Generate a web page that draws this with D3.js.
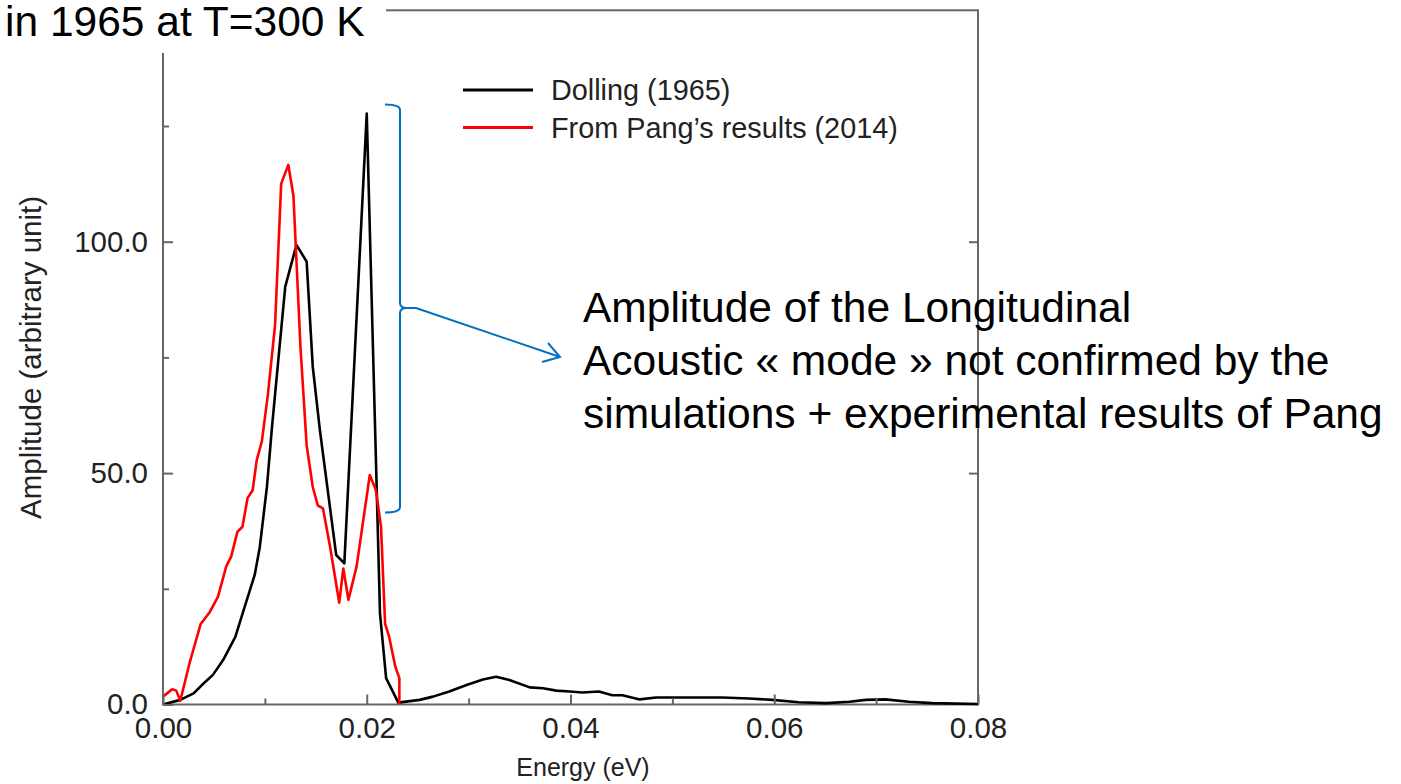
<!DOCTYPE html>
<html>
<head>
<meta charset="utf-8">
<script src="https://cdn.jsdelivr.net/npm/d3@7"></script>
<style>
  body { margin: 0; background: #fff; }
  text { font-family: "Liberation Sans", Arial, sans-serif; }
</style>
</head>
<body>
<div class="chart"></div>
<script>
// Dolling (1965) spectrum
var energyDolling = [0.0000, 0.0017, 0.0030, 0.0040, 0.0049, 0.0059, 0.0071, 0.0080, 0.0090, 0.0095,
  0.0102, 0.0107, 0.0120, 0.0131, 0.0141, 0.0147, 0.0154, 0.0170, 0.0178, 0.0200, 0.0213, 0.0219,
  0.0231, 0.0252, 0.0265, 0.0281, 0.0298, 0.0314, 0.0327, 0.0340, 0.0360, 0.0373, 0.0386, 0.0399,
  0.0412, 0.0428, 0.0441, 0.0451, 0.0468, 0.0484, 0.0510, 0.0549, 0.0575, 0.0598, 0.0624, 0.0651,
  0.0674, 0.0690, 0.0709, 0.0732, 0.0755, 0.0800];
var ampDolling = [0.0, 1.0, 2.4, 4.6, 6.4, 9.6, 14.6, 21.0, 28.0, 34.0,
  47.0, 60.0, 90.3, 99.3, 95.7, 73.0, 59.3, 32.3, 30.5, 127.7, 19.7, 5.7,
  0.4, 1.0, 1.7, 2.8, 4.2, 5.4, 6.0, 5.3, 3.7, 3.5, 3.0, 2.8,
  2.6, 2.8, 2.0, 2.0, 1.1, 1.5, 1.5, 1.5, 1.3, 1.0, 0.5, 0.3,
  0.6, 1.0, 1.1, 0.6, 0.3, 0.1];

// From Pang's results (2014)
var energyPang = [0.0000, 0.0009, 0.0013, 0.0017, 0.0026, 0.0037, 0.0046, 0.0054, 0.0062, 0.0067,
  0.0073, 0.0078, 0.0083, 0.0088, 0.0092, 0.0097, 0.0103, 0.0110, 0.0116, 0.0123, 0.0128, 0.0135,
  0.0141, 0.0147, 0.0152, 0.0157, 0.0164, 0.0173, 0.0177, 0.0182, 0.0190, 0.0203, 0.0209, 0.0214,
  0.0218, 0.0222, 0.0228, 0.0232, 0.0232];
var ampPang = [1.7, 3.3, 3.0, 0.8, 8.9, 17.4, 20.0, 23.3, 29.8, 32.0,
  37.3, 38.4, 44.6, 46.3, 52.8, 56.8, 67.0, 82.0, 112.5, 116.6, 110.0, 77.0,
  56.0, 47.0, 43.0, 42.4, 34.1, 22.0, 29.4, 22.6, 29.8, 49.6, 46.3, 38.4,
  17.5, 14.6, 8.2, 5.7, 0.0];

var seriesNames = ["Dolling (1965)", "From Pang\u2019s results (2014)"];
var seriesColors = ["#000000", "#ff0000"];

var xMajorTicks = [0, 0.02, 0.04, 0.06, 0.08];
var xMinorTicks = [0.01, 0.03, 0.05, 0.07];
var yMajorTicks = [0, 50, 100];
var yMinorTicks = [25, 75, 125];

var titleText = "in 1965 at T=300 K";
var noteLines = [
  "Amplitude of the Longitudinal",
  "Acoustic \u00ab mode \u00bb not confirmed by the",
  "simulations + experimental results of Pang"
];

var svgWidth = 1401;
var svgHeight = 784;
var margin = { top: 10.3, left: 163, right: 423, bottom: 79.5 };
var width = svgWidth - margin.left - margin.right;
var height = svgHeight - margin.top - margin.bottom;

var svg = d3.select(".chart")
  .append("svg")
  .attr("width", svgWidth)
  .attr("height", svgHeight);

var chartGroup = svg.append("g")
  .attr("transform", `translate(${margin.left}, ${margin.top})`);

var x = d3.scaleLinear().domain([0, 0.08]).range([0, width]);
var y = d3.scaleLinear().domain([0, 150]).range([height, 0]);

var axisColor = "#666";
var labelColor = "#222";

// frame
chartGroup.append("rect")
  .attr("width", width)
  .attr("height", height)
  .attr("fill", "none")
  .attr("stroke", axisColor)
  .attr("stroke-width", 2);

// curves
var line = d3.line()
  .x(d => x(d[0]))
  .y(d => y(d[1]));

var dollingData = d3.zip(energyDolling, ampDolling);
var pangData = d3.zip(energyPang, ampPang);

chartGroup.append("path")
  .datum(dollingData)
  .attr("d", line)
  .attr("fill", "none")
  .attr("stroke", seriesColors[0])
  .attr("stroke-width", 2.6)
  .attr("stroke-linejoin", "round");

chartGroup.append("path")
  .datum(pangData)
  .attr("d", line)
  .attr("fill", "none")
  .attr("stroke", seriesColors[1])
  .attr("stroke-width", 2.6)
  .attr("stroke-linejoin", "round");

// axes, ticks pointing inward
function styleAxis(g) {
  g.select(".domain").remove();
  g.selectAll(".tick line").attr("stroke", axisColor).attr("stroke-width", 2);
  g.selectAll(".tick text")
    .attr("fill", labelColor)
    .style("font-size", "29.5px")
    .style("font-family", "'Liberation Sans', Arial, sans-serif");
}

chartGroup.append("g")
  .attr("transform", `translate(0, ${height})`)
  .call(d3.axisBottom(x).tickValues(xMajorTicks).tickSize(-10).tickPadding(13)
    .tickFormat(d3.format(".2f")))
  .call(styleAxis);

chartGroup.append("g")
  .attr("transform", `translate(0, ${height})`)
  .call(d3.axisBottom(x).tickValues(xMinorTicks).tickSize(-6).tickFormat(""))
  .call(styleAxis);

chartGroup.append("g")
  .call(d3.axisLeft(y).tickValues(yMajorTicks).tickSize(-10).tickPadding(15)
    .tickFormat(d3.format(".1f")))
  .call(styleAxis);

chartGroup.append("g")
  .call(d3.axisLeft(y).tickValues(yMinorTicks).tickSize(-6).tickFormat(""))
  .call(styleAxis);

chartGroup.append("g")
  .attr("transform", `translate(${width}, 0)`)
  .call(d3.axisRight(y).tickValues(yMajorTicks.slice(1)).tickSize(-9).tickFormat(""))
  .call(styleAxis);

// axis titles
chartGroup.append("text")
  .attr("x", 583 - margin.left)
  .attr("y", height + 72)
  .attr("text-anchor", "middle")
  .attr("fill", labelColor)
  .style("font-size", "25px")
  .text("Energy (eV)");

chartGroup.append("text")
  .attr("transform", `translate(${41 - margin.left}, ${height / 2}) rotate(-90)`)
  .attr("text-anchor", "middle")
  .attr("fill", labelColor)
  .style("font-size", "29.5px")
  .text("Amplitude (arbitrary unit)");

// legend
var legend = svg.append("g").attr("class", "legend");
seriesNames.forEach(function (name, i) {
  var ly = 90 + i * 37.5;
  legend.append("line")
    .attr("x1", 463).attr("x2", 533)
    .attr("y1", ly).attr("y2", ly)
    .attr("stroke", seriesColors[i])
    .attr("stroke-width", 3);
  legend.append("text")
    .attr("x", 551)
    .attr("y", ly + 10)
    .attr("fill", labelColor)
    .style("font-size", "28.8px")
    .text(name);
});

// title box covering the top-left corner
svg.append("rect")
  .attr("x", 0).attr("y", 0)
  .attr("width", 386).attr("height", 53)
  .attr("fill", "#fff");

svg.append("text")
  .attr("x", 5)
  .attr("y", 35.5)
  .attr("fill", "#000")
  .style("font-size", "42.5px")
  .text(titleText);

// blue bracket and arrow
var blue = "#0070c0";
svg.append("path")
  .attr("d", "M385,104.5 Q400,104.5 400,110 L400,303 Q400,308 407,308 L416,308 L560,357")
  .attr("fill", "none").attr("stroke", blue).attr("stroke-width", 2);
svg.append("path")
  .attr("d", "M407,308 Q400,308 400,313 L400,507 Q400,512.5 385,512.5")
  .attr("fill", "none").attr("stroke", blue).attr("stroke-width", 2);
svg.append("path")
  .attr("d", "M548,343 L560,357 L542,362")
  .attr("fill", "none").attr("stroke", blue).attr("stroke-width", 2);

// annotation
var note = svg.append("text")
  .attr("fill", "#000")
  .style("font-size", "42.5px");
noteLines.forEach(function (t, i) {
  note.append("tspan")
    .attr("x", 583)
    .attr("y", 322 + i * 53)
    .text(t);
});
</script>
</body>
</html>
